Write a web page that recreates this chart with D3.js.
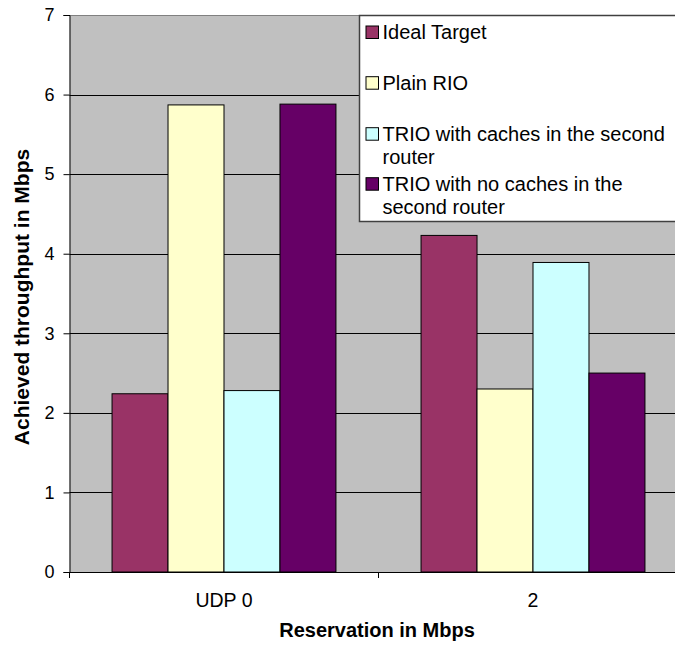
<!DOCTYPE html>
<html>
<head>
<meta charset="utf-8">
<script src="https://cdn.jsdelivr.net/npm/d3@7"></script>
<style>
  html, body { margin: 0; padding: 0; background: #ffffff; }
  svg { display: block; font-family: "Liberation Sans", Arial, sans-serif; }
</style>
</head>
<body>
<svg id="chart" width="675" height="650"></svg>
<script>
// ---- data ----
const categories = ["UDP 0", "2"];
const seriesNames = [
  "Ideal Target",
  "Plain RIO",
  "TRIO with caches in the second router",
  "TRIO with no caches in the second router"
];
const idealTarget = [2.24, 4.23];
const plainRIO = [5.87, 2.30];
const trioCaches = [2.28, 3.89];
const trioNoCaches = [5.88, 2.50];
const yTicks = [0, 1, 2, 3, 4, 5, 6, 7];
const seriesColors = ["#993366", "#FFFFCC", "#CCFFFF", "#660066"];
const legendLines = [
  ["Ideal Target"],
  ["Plain RIO"],
  ["TRIO with caches in the second", "router"],
  ["TRIO with no caches in the", "second router"]
];

(function () {
const seriesValues = [idealTarget, plainRIO, trioCaches, trioNoCaches];
const rows = categories.map((c, i) => ({
  cat: c,
  vals: seriesValues.map((s, k) => ({ key: k, value: s[i] }))
}));

// ---- layout ----
const svg = d3.select("#chart");
const pLeft = 69.5, pTop = 15, pRight = 687.5, pBottom = 572;

const x0 = d3.scaleBand().domain(categories).range([pLeft, pRight]).paddingInner(0).paddingOuter(0);
const x1 = d3.scaleBand().domain(d3.range(seriesNames.length))
  .range([0, x0.bandwidth()]).paddingInner(0).paddingOuter(0.76);
const y = d3.scaleLinear().domain([0, 7]).range([pBottom, pTop]);

// plot background
svg.append("rect")
  .attr("x", pLeft).attr("y", pTop)
  .attr("width", pRight - pLeft).attr("height", pBottom - pTop)
  .attr("fill", "#C0C0C0");

// gridlines
svg.append("g").selectAll("line")
  .data(yTicks.filter(t => t > 0))
  .join("line")
  .attr("x1", pLeft).attr("x2", pRight)
  .attr("y1", d => Math.round(y(d)) + 0.5).attr("y2", d => Math.round(y(d)) + 0.5)
  .attr("stroke", d => d === 7 ? "#808080" : "#000")
  .attr("stroke-width", 1);

// bars
const g = svg.append("g").selectAll("g")
  .data(rows)
  .join("g")
  .attr("transform", d => `translate(${x0(d.cat)},0)`);
g.selectAll("rect")
  .data(d => d.vals)
  .join("rect")
  .attr("x", d => x1(d.key))
  .attr("y", d => y(d.value))
  .attr("width", x1.bandwidth())
  .attr("height", d => y(0) - y(d.value))
  .attr("fill", d => seriesColors[d.key])
  .attr("stroke", "#000")
  .attr("stroke-width", 1);

// y axis
const yAxis = d3.axisLeft(y).tickValues(yTicks).tickSize(6).tickPadding(9).tickFormat(d3.format("d"));
const ya = svg.append("g").attr("transform", `translate(${pLeft},0)`).call(yAxis);
ya.select(".domain").attr("stroke", "#000");
ya.selectAll(".tick line").attr("stroke", "#000");
ya.selectAll(".tick text")
  .attr("font-family", "Liberation Sans, Arial, sans-serif")
  .attr("font-size", 18).attr("fill", "#000");

// x axis
const xa = svg.append("g").attr("transform", `translate(0,${pBottom})`)
  .call(d3.axisBottom(x0).tickSize(0).tickFormat(""));
xa.select(".domain").attr("stroke", "#000");
// category boundary ticks
const bounds = [x0.range()[0]].concat(categories.map(c => x0(c) + x0.bandwidth()));
xa.selectAll("line.bound")
  .data(bounds)
  .join("line")
  .attr("class", "bound")
  .attr("x1", d => d).attr("x2", d => d)
  .attr("y1", 0).attr("y2", 6)
  .attr("stroke", "#000");
// category labels
xa.selectAll("text.cat")
  .data(categories)
  .join("text")
  .attr("class", "cat")
  .attr("x", d => x0(d) + x0.bandwidth() / 2)
  .attr("y", 35)
  .attr("text-anchor", "middle")
  .attr("font-size", 19.5)
  .attr("fill", "#000")
  .text(d => d);

// axis titles
svg.append("text")
  .attr("x", 377).attr("y", 637)
  .attr("text-anchor", "middle")
  .attr("font-size", 20).attr("font-weight", "bold")
  .text("Reservation in Mbps");

svg.append("text")
  .attr("transform", "translate(28.5,297) rotate(-90)")
  .attr("text-anchor", "middle")
  .attr("font-size", 21).attr("font-weight", "bold")
  .text("Achieved throughput in Mbps");

// legend
const lg = svg.append("g");
lg.append("rect")
  .attr("x", 359.5).attr("y", 15.5)
  .attr("width", 330).attr("height", 206)
  .attr("fill", "#fff").attr("stroke", "#404040").attr("stroke-width", 1.5);

const legendBase = [39.3, 90, 141, 191];
const legendSecond = [null, null, 163.5, 214.3];
const items = lg.selectAll("g.item")
  .data(seriesNames)
  .join("g").attr("class", "item");
items.append("rect")
  .attr("x", 366).attr("y", (d, i) => legendBase[i] - 13.3)
  .attr("width", 12.5).attr("height", 12.5)
  .attr("fill", (d, i) => seriesColors[i])
  .attr("stroke", "#000").attr("stroke-width", 1);
items.each(function (d, i) {
  const it = d3.select(this);
  legendLines[i].forEach((ln, j) => {
    it.append("text")
      .attr("x", 382.5)
      .attr("y", j === 0 ? legendBase[i] : legendSecond[i])
      .attr("font-size", 20)
      .attr("fill", "#000")
      .text(ln);
  });
});
})();
</script>
</body>
</html>
